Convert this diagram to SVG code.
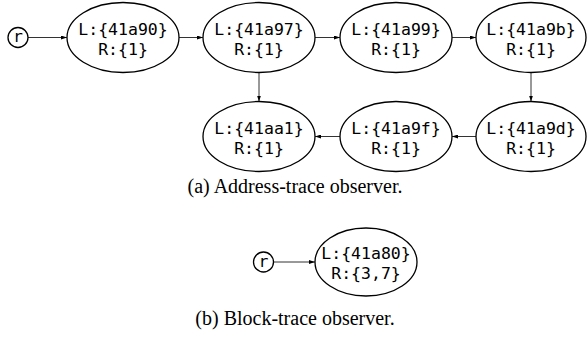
<svg xmlns="http://www.w3.org/2000/svg" width="587" height="343" viewBox="0 0 587 343">
<style>
.n ellipse,.n circle{fill:#fff;stroke:#000;stroke-width:1.3}
.n text{font-family:"DejaVu Sans Mono",monospace;font-size:16.5px;text-anchor:middle;fill:#000}
.e line{stroke:#333;stroke-width:1}
.cap{font-family:"Liberation Serif",serif;font-size:20px;fill:#000;text-anchor:middle}
</style>
<defs>
<marker id="ah" viewBox="0 0 6 4" refX="6" refY="2" markerWidth="6" markerHeight="4" markerUnits="userSpaceOnUse" orient="auto">
<path d="M0,0L6,2L0,4z" fill="#000"/>
</marker>
</defs>
<g class="e">
<line x1="28" y1="37.5" x2="67" y2="37.5" marker-end="url(#ah)"/>
<line x1="179" y1="37.5" x2="203" y2="37.5" marker-end="url(#ah)"/>
<line x1="315" y1="37.5" x2="340" y2="37.5" marker-end="url(#ah)"/>
<line x1="452" y1="37.5" x2="476" y2="37.5" marker-end="url(#ah)"/>
<line x1="259" y1="73" x2="259" y2="101.5" marker-end="url(#ah)"/>
<line x1="531" y1="73" x2="531" y2="101.5" marker-end="url(#ah)"/>
<line x1="476" y1="136.5" x2="452" y2="136.5" marker-end="url(#ah)"/>
<line x1="340" y1="136.5" x2="315" y2="136.5" marker-end="url(#ah)"/>
<line x1="273.5" y1="262" x2="315" y2="262" marker-end="url(#ah)"/>
</g>
<g id="r1" class="n"><circle cx="18" cy="37.5" r="10"/><text x="18" y="42">r</text></g>
<g id="n41a90" class="n"><ellipse cx="123" cy="37.5" rx="56" ry="35"/><text x="123" y="34.5">L:{41a90}</text><text x="123" y="54.5">R:{1}</text></g>
<g id="n41a97" class="n"><ellipse cx="259" cy="37.5" rx="56" ry="35"/><text x="259" y="34.5">L:{41a97}</text><text x="259" y="54.5">R:{1}</text></g>
<g id="n41a99" class="n"><ellipse cx="396" cy="37.5" rx="56" ry="35"/><text x="396" y="34.5">L:{41a99}</text><text x="396" y="54.5">R:{1}</text></g>
<g id="n41a9b" class="n"><ellipse cx="531" cy="37.5" rx="55" ry="35"/><text x="531" y="34.5">L:{41a9b}</text><text x="531" y="54.5">R:{1}</text></g>
<g id="n41aa1" class="n"><ellipse cx="259" cy="136.5" rx="56" ry="35"/><text x="259" y="133.5">L:{41aa1}</text><text x="259" y="153.5">R:{1}</text></g>
<g id="n41a9f" class="n"><ellipse cx="396" cy="136.5" rx="56" ry="35"/><text x="396" y="133.5">L:{41a9f}</text><text x="396" y="153.5">R:{1}</text></g>
<g id="n41a9d" class="n"><ellipse cx="531" cy="136.5" rx="55" ry="35"/><text x="531" y="133.5">L:{41a9d}</text><text x="531" y="153.5">R:{1}</text></g>
<text class="cap" x="295" y="193">(a) Address-trace observer.</text>
<g id="r2" class="n"><circle cx="263.5" cy="262" r="10"/><text x="263.5" y="266.5">r</text></g>
<g id="n41a80" class="n"><ellipse cx="366" cy="262" rx="51" ry="34"/><text x="366" y="259">L:{41a80}</text><text x="366" y="279">R:{3,7}</text></g>
<text class="cap" x="295" y="325">(b) Block-trace observer.</text>
</svg>
